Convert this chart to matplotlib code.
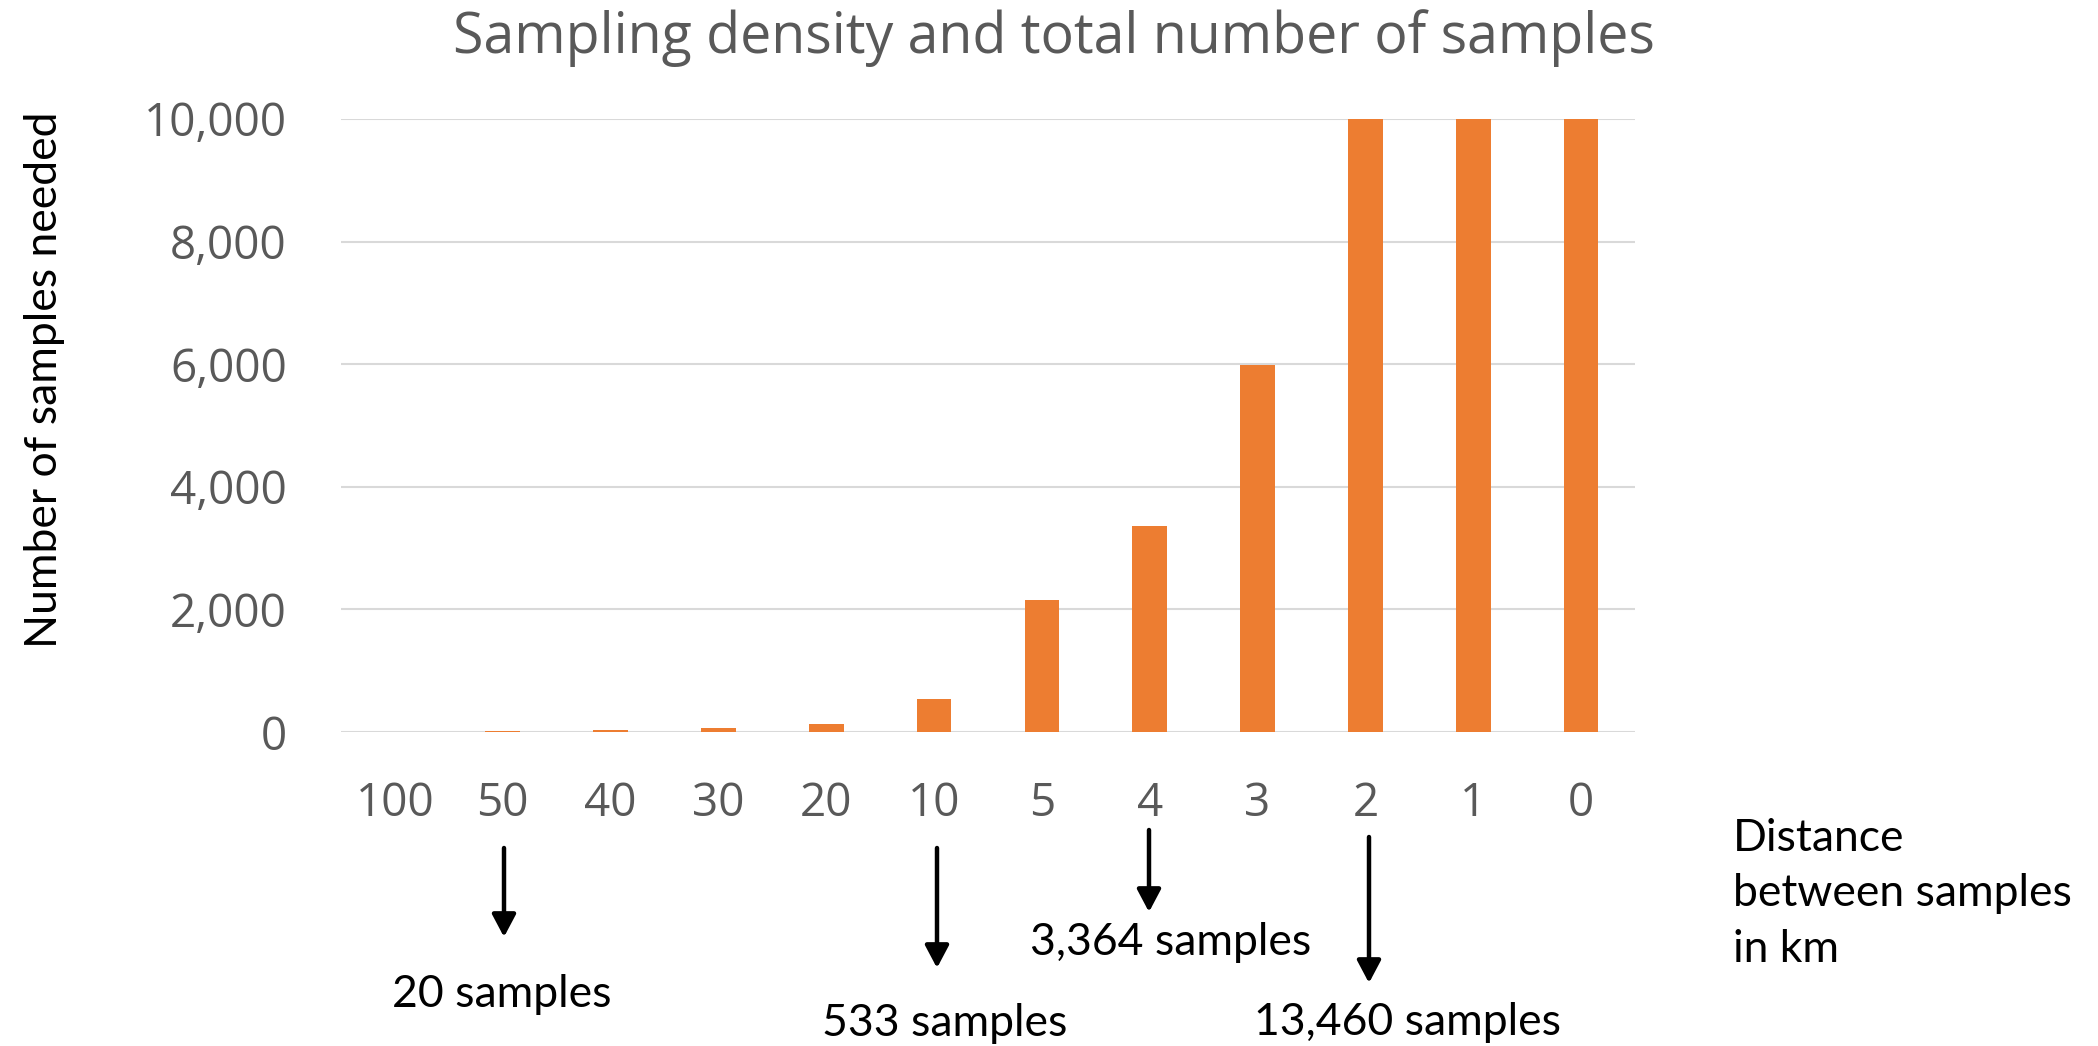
import matplotlib
matplotlib.use("Agg")
import matplotlib.pyplot as plt
from matplotlib.patches import FancyArrowPatch
import numpy as np

categories = ["100", "50", "40", "30", "20", "10", "5", "4", "3", "2", "1", "0"]
samples = [5, 20, 33, 59, 133, 533, 2160, 3364, 5980, 13460, 53840, 100000]
yticks = [0, 2000, 4000, 6000, 8000, 10000]
ytick_labels = ["0", "2,000", "4,000", "6,000", "8,000", "10,000"]
note_labels = ["20 samples", "533 samples", "3,364 samples", "13,460 samples"]

W, H = 2098, 1046
fig = plt.figure(figsize=(W / 100, H / 100), dpi=100)
ax = fig.add_axes([341 / W, 1 - 732 / H, (1635 - 341) / W, (732 - 119) / H])

gray = "#595959"
x = np.arange(len(categories))
ax.bar(x, samples, width=0.32, color="#ED7D31", zorder=3)
ax.set_xlim(-0.5, len(categories) - 0.5)
ax.set_ylim(0, 10000)
ax.set_yticks(yticks)
ax.set_yticklabels(ytick_labels)
ax.set_xticks(x)
ax.set_xticklabels(categories)
for s in ax.spines.values():
    s.set_visible(False)
ax.grid(axis="y", color="#d9d9d9", linewidth=1.5, zorder=0)
ax.tick_params(axis="both", length=0, labelsize=33, labelcolor=gray)
ax.tick_params(axis="y", pad=39)
ax.tick_params(axis="x", pad=35)
for lab in ax.get_xticklabels() + ax.get_yticklabels():
    lab.set_fontfamily("Open Sans")
ax.axhline(0, color="#d9d9d9", linewidth=2, zorder=2)

fig.text(1054 / W, 1 - 53 / H, "Sampling density and total number of samples",
         ha="center", va="baseline", fontsize=40, color=gray, family="Open Sans")
fig.text(45 / W, 1 - 380 / H, "Number of samples needed", rotation=90,
         ha="center", va="center", fontsize=32, color="black", family="Lato")
fig.text(1733 / W, 1 - 894 / H, "Distance\nbetween samples\nin km", ha="left", va="center",
         fontsize=32, color="black", family="Lato", linespacing=1.45)

# arrow annotations in pixels: (arrow x, y start, y tip, text center x, text baseline y)
arrow_px = [
    (504, 848, 937, 502, 1007),
    (937, 848, 968, 945, 1036),
    (1149, 830, 912, 1171, 955),
    (1369, 837, 983, 1408, 1035),
]
for label, (axp, y0, y1, tx, ty) in zip(note_labels, arrow_px):
    fig.add_artist(FancyArrowPatch(
        (axp / W, 1 - y0 / H), (axp / W, 1 - y1 / H), transform=fig.transFigure,
        arrowstyle="-|>,head_length=0.68,head_width=0.36", mutation_scale=20,
        color="black", linewidth=3.2, shrinkA=0, shrinkB=0))
    fig.text(tx / W, 1 - ty / H, label, ha="center", va="baseline", fontsize=32,
             color="black", family="Lato")

fig.savefig("out.png", dpi=100, facecolor="white")
